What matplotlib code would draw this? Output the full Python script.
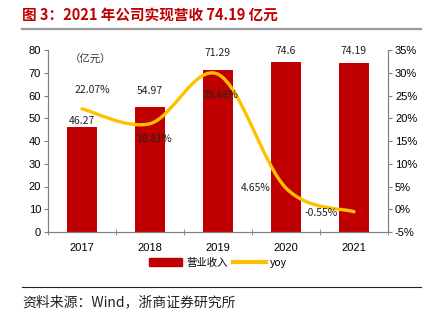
import matplotlib
matplotlib.use('Agg')
from matplotlib import pyplot as plt
from matplotlib.path import Path
from matplotlib.patches import PathPatch
from matplotlib.lines import Line2D
from matplotlib.ticker import FuncFormatter
import numpy as np

plt.rcParams['font.family'] = ['Liberation Sans', 'Noto Sans CJK SC', 'DejaVu Sans']

years = ['2017', '2018', '2019', '2020', '2021']
revenue = [46.27, 54.97, 71.29, 74.6, 74.19]
yoy = [22.07, 18.81, 29.68, 4.65, -0.55]
revenue_labels = ['46.27', '54.97', '71.29', '74.6', '74.19']
yoy_labels = ['22.07%', '18.81%', '29.68%', '4.65%', '-0.55%']

RED = '#C00000'
GOLD = '#FFC000'
CJK = ['Noto Sans CJK SC', 'DejaVu Sans']


def smooth_path(xs, ys):
    # catmull-rom through the points, written as cubic bezier segments
    pts = np.column_stack([xs, ys]).astype(float)
    ext = np.vstack([pts[0], pts, pts[-1]])
    verts = [pts[0]]
    codes = [Path.MOVETO]
    for i in range(len(pts) - 1):
        p0, p1, p2, p3 = ext[i], ext[i + 1], ext[i + 2], ext[i + 3]
        verts += [p1 + (p2 - p0) / 6, p2 - (p3 - p1) / 6, p2]
        codes += [Path.CURVE4] * 3
    return Path(verts, codes)


fig = plt.figure(figsize=(4.3, 3.22), dpi=100)
ax = fig.add_axes([48 / 430, 1 - 232 / 322, 340 / 430, 182 / 322])
ax2 = ax.twinx()

x = np.arange(len(years))
ax.bar(x, revenue, width=0.43, color=RED, zorder=2)
ax.set_xlim(-0.5, 4.5)
ax.set_ylim(0, 80)
ax.set_yticks(range(0, 81, 10))
ax.set_xticks(x)
ax.set_xticklabels(years)
ax.set_xticks(np.arange(-0.5, 5, 1), minor=True)
ax.tick_params(axis='x', which='major', length=0, pad=8, labelsize=8)
ax.tick_params(axis='x', which='minor', length=4, direction='inout', color='#808080')
ax.tick_params(axis='y', length=3, color='#808080', labelsize=8, pad=2)

ax2.set_ylim(-5, 35)
ax2.set_yticks(range(-5, 36, 5))
ax2.yaxis.set_major_formatter(FuncFormatter(lambda v, p: '%d%%' % v))
ax2.tick_params(axis='y', length=3, color='#808080', labelsize=8, pad=2)

for a in (ax, ax2):
    a.spines['top'].set_visible(False)
    for s in ('left', 'right', 'bottom'):
        a.spines[s].set_color('#808080')

ax2.add_patch(PathPatch(smooth_path(x, yoy), fill=False, edgecolor=GOLD,
                        lw=2.4, capstyle='round', zorder=3))

# value labels, nudged off the bars and the curve
bar_dy = [6, 16, 17, 11, 12]
for xi, v, t, dy in zip(x, revenue, revenue_labels, bar_dy):
    ax.annotate(t, (xi, v), xytext=(0, dy), textcoords='offset pixels',
                ha='center', va='center', fontsize=7.5, color='#222222', family=CJK)

yoy_off = [(10, 19), (4, -15), (2, -21), (-30, 0), (-33, -1)]
for xi, v, t, (dx, dy) in zip(x, yoy, yoy_labels, yoy_off):
    ax2.annotate(t, (xi, v), xytext=(dx, dy), textcoords='offset pixels',
                 ha='center', va='center', fontsize=7.5, color='#222222',
                 family=CJK, zorder=4)

# unit note in the upper left of the plot
ax.text(0.125, 0.945, '（亿元）', transform=ax.transAxes,
        fontsize=7.5, color='#333333', family=CJK, ha='center', va='center')

handles = [plt.Rectangle((0, 0), 1, 1, color=RED),
           Line2D([0], [0], color=GOLD, lw=3)]
fig.legend(handles, ['营业收入', 'yoy'], loc='center', ncol=2,
           bbox_to_anchor=(218 / 430, 1 - 263 / 322), frameon=False,
           handlelength=3.2, handleheight=0.8,
           handletextpad=0.4, columnspacing=0.5, prop={'family': CJK, 'size': 7.5})

fig.text(22 / 430, 1 - 15 / 322, '图 3：2021 年公司实现营收 74.19 亿元',
         fontsize=10.5, fontweight='bold', color=RED, family=CJK,
         ha='left', va='center')
fig.add_artist(Line2D([22 / 430, 421 / 430], [1 - 28.5 / 322] * 2,
                      color='#999999', lw=1.6))
fig.add_artist(Line2D([22 / 430, 421 / 430], [1 - 287 / 322] * 2,
                      color='#222222', lw=0.8))
fig.text(22 / 430, 1 - 302 / 322, '资料来源：Wind，浙商证券研究所',
         fontsize=10, color='#222222', family=CJK, ha='left', va='center')

fig.savefig('out.png', dpi=100)
